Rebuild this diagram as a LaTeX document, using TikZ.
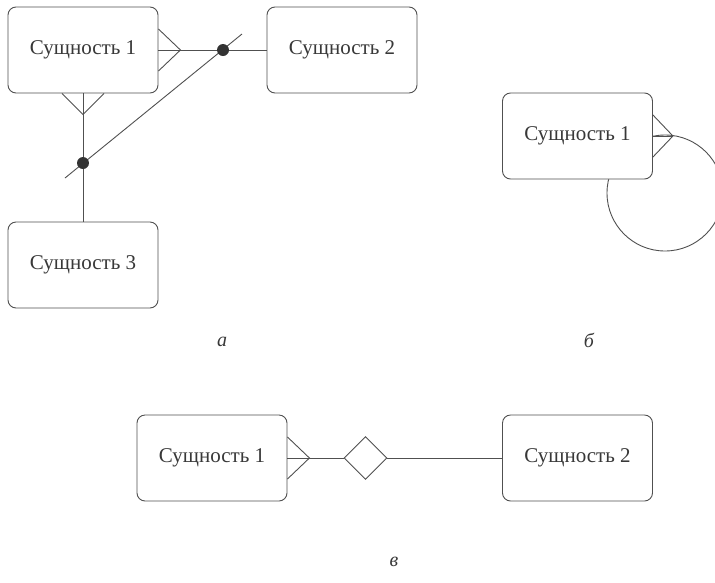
\documentclass[tikz,border=0pt]{standalone}
\usepackage{fontspec}
\setmainfont{Liberation Serif}
\usetikzlibrary{shapes.geometric,positioning,calc}
\definecolor{linegray}{HTML}{505050}
\definecolor{textgray}{HTML}{383838}

\begin{document}
\begin{tikzpicture}[
    x=1pt, y=-1pt,
    every node/.style={font=\fontsize{21}{24}\selectfont, text=textgray},
    entity/.style={draw=linegray, fill=white, rounded corners=8pt, line width=0.9pt, minimum width=150pt, minimum height=86pt, inner sep=0pt},
    link/.style={draw=linegray, line width=0.9pt},
    joint/.style={circle, fill=black!80, minimum size=12pt, inner sep=0pt},
    rel/.style={diamond, aspect=1, draw=linegray, fill=white, line width=0.9pt, minimum size=43pt, inner sep=0pt},
    caption/.style={font=\itshape\fontsize{20}{24}\selectfont}
]
    \useasboundingbox (0,0) rectangle (715,582);

    % a: three entities joined by one relationship
    \node[entity] (A1) at (83,50) {Сущность 1};
    \node[entity] (A2) at (342,50) {Сущность 2};
    \node[entity] (A3) at (83,265) {Сущность 3};
    \coordinate (D1) at (242,34);
    \coordinate (D2) at (65,178);
    \draw[link] (D2) -- (D1);
    \draw[link] ($(A1.east)+(0,-21)$) -- ++(22,21) -- ++(-22,21);
    \draw[link] ($(A1.south)+(-21,0)$) -- ++(21,21) -- ++(21,-21);
    \node[joint] (J1) at (223,50) {};
    \node[joint] (J2) at (83,163) {};
    \draw[link] (A1.east) -- (J1) -- (A2.west);
    \draw[link] (A1.south) -- (J2) -- (A3.north);
    \node[caption] (capA) at (222,342) {а};

    % b: recursive relationship
    \coordinate (loopc) at (665,193);
    \draw[link] (loopc) circle[radius=58];
    \node[entity] (B1) at (577.5,136) {Сущность 1};
    \draw[link] ($(B1.east)+(0,-21)$) -- ++(20,21) -- ++(-20,21);
    \draw[link] (B1.east) -- ++(20,0);
    \node[caption] (capB) at (589,340) {б};

    % v: relationship as a diamond
    \node[entity] (C1) at (212,458) {Сущность 1};
    \node[entity] (C2) at (577.5,458) {Сущность 2};
    \node[rel] (R) at (365.5,458) {};
    \draw[link] ($(C1.east)+(0,-21)$) -- ++(22,21) -- ++(-22,21);
    \draw[link] (C1.east) -- (R) -- (C2.west);
    \node[caption] (capC) at (394,562) {в};
\end{tikzpicture}
\end{document}
